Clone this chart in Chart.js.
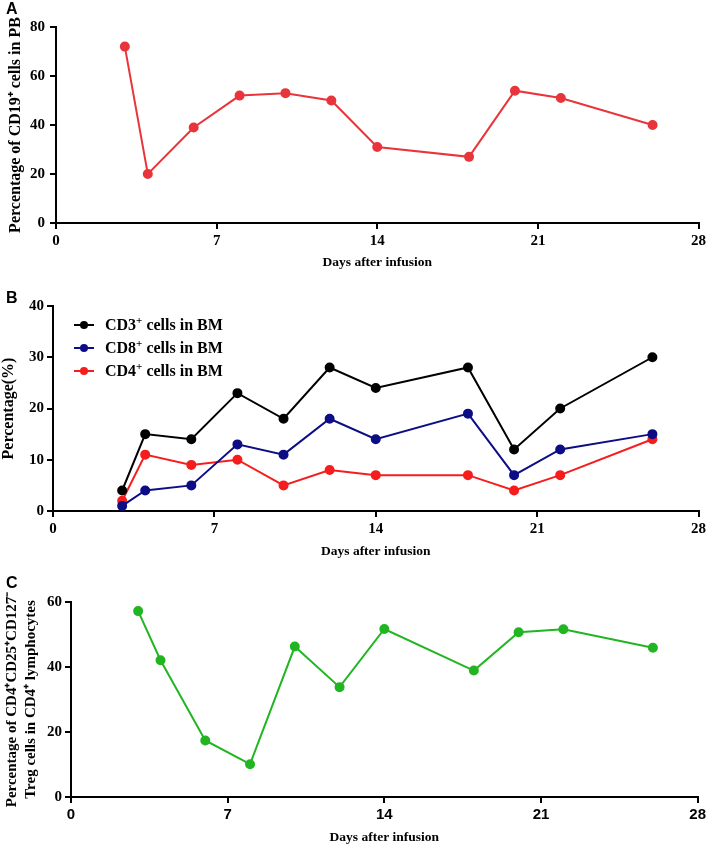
<!DOCTYPE html>
<html>
<head>
<meta charset="utf-8">
<script src="https://cdn.jsdelivr.net/npm/chart.js@4/dist/chart.umd.min.js"></script>
<style>
  html, body { margin: 0; padding: 0; background: #fff; }
  #wrap { position: relative; width: 709px; height: 846px; overflow: hidden; }
  canvas { position: absolute; left: 0; }
  .letter { position: absolute; left: 6px; font: bold 16px "Liberation Sans", Arial, sans-serif; color: #000; }
  .legend { position: absolute; left: 74px; top: 313px; font: bold 16px "Liberation Serif", "Times New Roman", serif; color: #000; }
  .legend .row { position: relative; height: 23px; line-height: 23px; white-space: nowrap; }
  .legend .sym { position: absolute; left: 0; top: 11px; width: 20px; height: 2px; }
  .legend .dot { position: absolute; left: 6px; top: -3px; width: 8px; height: 8px; border-radius: 50%; }
  .legend .txt { position: absolute; left: 31px; top: 0; }
  .legend sup { font-size: 11px; line-height: 0; }
</style>
</head>
<body>
<div id="wrap">
  <canvas id="cA" width="709" height="280" style="top:0px"></canvas>
  <canvas id="cB" width="709" height="280" style="top:280px"></canvas>
  <canvas id="cC" width="709" height="286" style="top:560px"></canvas>
  <div class="letter" style="top:0px">A</div>
  <div class="letter" style="top:289px">B</div>
  <div class="letter" style="top:574px">C</div>
  <div class="legend">
    <div class="row"><span class="sym" style="background:#000"><span class="dot" style="background:#000"></span></span><span class="txt">CD3<sup>+</sup> cells in BM</span></div>
    <div class="row"><span class="sym" style="background:#0d0d86"><span class="dot" style="background:#0d0d86"></span></span><span class="txt">CD8<sup>+</sup> cells in BM</span></div>
    <div class="row"><span class="sym" style="background:#f51d1d"><span class="dot" style="background:#f51d1d"></span></span><span class="txt">CD4<sup>+</sup> cells in BM</span></div>
  </div>
</div>
<script>
// ---- Data ----
const days = [3, 4, 6, 8, 10, 12, 14, 18, 20, 22, 26];
const cd19PB = [72, 20, 39, 52, 53, 50, 31, 27, 54, 51, 40];
const cd3BM = [4, 15, 14, 23, 18, 28, 24, 28, 12, 20, 30];
const cd8BM = [1, 4, 5, 13, 11, 18, 14, 19, 7, 12, 15];
const cd4BM = [2, 11, 9, 10, 5, 8, 7, 7, 4, 7, 14];
const tregPct = [57.2, 42.1, 17.4, 10.1, 46.3, 33.8, 51.7, 38.9, 50.7, 51.6, 45.9];
const xTicks = [0, 7, 14, 21, 28];
const yTicksA = [0, 20, 40, 60, 80];
const yTicksB = [0, 10, 20, 30, 40];
const yTicksC = [0, 20, 40, 60];
const xTitle = "Days after infusion";
const yTitleA = "Percentage of CD19\u207A cells in PB";
const yTitleB = "Percentage(%)";
const yTitleC = ["Percentage of CD4\u207ACD25\u207ACD127\u207B", "Treg cells in CD4\u207A lymphocytes"];

const serif = "'Liberation Serif', 'Times New Roman', serif";
const sans = "'Liberation Sans', Arial, sans-serif";

function mkSeries(values, color) {
  return {
    data: days.map((d, i) => ({ x: d, y: values[i] })),
    borderColor: color,
    backgroundColor: color,
    pointBackgroundColor: color,
    pointBorderColor: color,
    borderWidth: 2,
    pointRadius: 4,
    pointHoverRadius: 4,
    tension: 0,
    clip: false
  };
}

function mkChart(id, datasets, cfg) {
  const axisStyle = {
    border: { display: true, color: '#000', width: 2 },
    grid: { display: true, drawOnChartArea: false, drawTicks: true, tickLength: 6, color: '#000', lineWidth: 2 }
  };
  return new Chart(document.getElementById(id), {
    type: 'line',
    data: { datasets },
    options: {
      responsive: false,
      animation: false,
      events: [],
      layout: { padding: { left: 0, right: cfg.right, top: cfg.top, bottom: 0 } },
      plugins: { legend: { display: false }, tooltip: { enabled: false } },
      scales: {
        x: Object.assign({}, axisStyle, {
          type: 'linear', min: 0, max: 28,
          afterBuildTicks: s => { s.ticks = xTicks.map(v => ({ value: v })); },
          afterFit: s => { s.height = cfg.xh; },
          ticks: { color: '#000', padding: cfg.xpad, maxRotation: 0, font: { family: cfg.xfont || serif, weight: 'bold', size: 15 } },
          title: { display: true, text: xTitle, color: '#000', padding: { top: 0, bottom: cfg.xtpad }, font: { family: serif, weight: 'bold', size: 13.5 } }
        }),
        y: Object.assign({}, axisStyle, {
          type: 'linear', min: cfg.ymin, max: cfg.ymax,
          afterBuildTicks: s => { s.ticks = cfg.yTicks.map(v => ({ value: v })); },
          afterFit: s => { s.width = cfg.yw; },
          ticks: { color: '#000', padding: cfg.ypad, font: { family: serif, weight: 'bold', size: 15 } },
          title: { display: true, text: cfg.ytitle, color: '#000', padding: { top: cfg.ytpad, bottom: 0 }, font: { family: serif, weight: 'bold', size: cfg.ytsize, lineHeight: cfg.ytlh } }
        })
      }
    }
  });
}

mkChart('cA', [mkSeries(cd19PB, '#e8353b')], {
  right: 10, top: 27, xh: 57, yw: 56, xpad: 3, xtpad: 9, ytpad: 5, ypad: 5,
  ymin: 0, ymax: 80, yTicks: yTicksA, ytitle: yTitleA, ytsize: 16, ytlh: 1.3
});
mkChart('cB', [mkSeries(cd3BM, '#000000'), mkSeries(cd8BM, '#0d0d86'), mkSeries(cd4BM, '#f51d1d')], {
  right: 10, top: 26, xh: 49, yw: 53, xpad: 3, xtpad: 0, ytpad: 0, ypad: 3,
  ymin: 0, ymax: 40, yTicks: yTicksB, ytitle: yTitleB, ytsize: 16, ytlh: 1.1
});
mkChart('cC', [mkSeries(tregPct, '#22b522')], {
  right: 9, top: 42, xh: 49, yw: 71, xpad: 3, xtpad: 0, ytpad: 2, ypad: 3,
  ymin: 0, ymax: 60, yTicks: yTicksC, ytitle: yTitleC, ytsize: 15, ytlh: 1.3, xfont: sans
});
</script>
</body>
</html>
